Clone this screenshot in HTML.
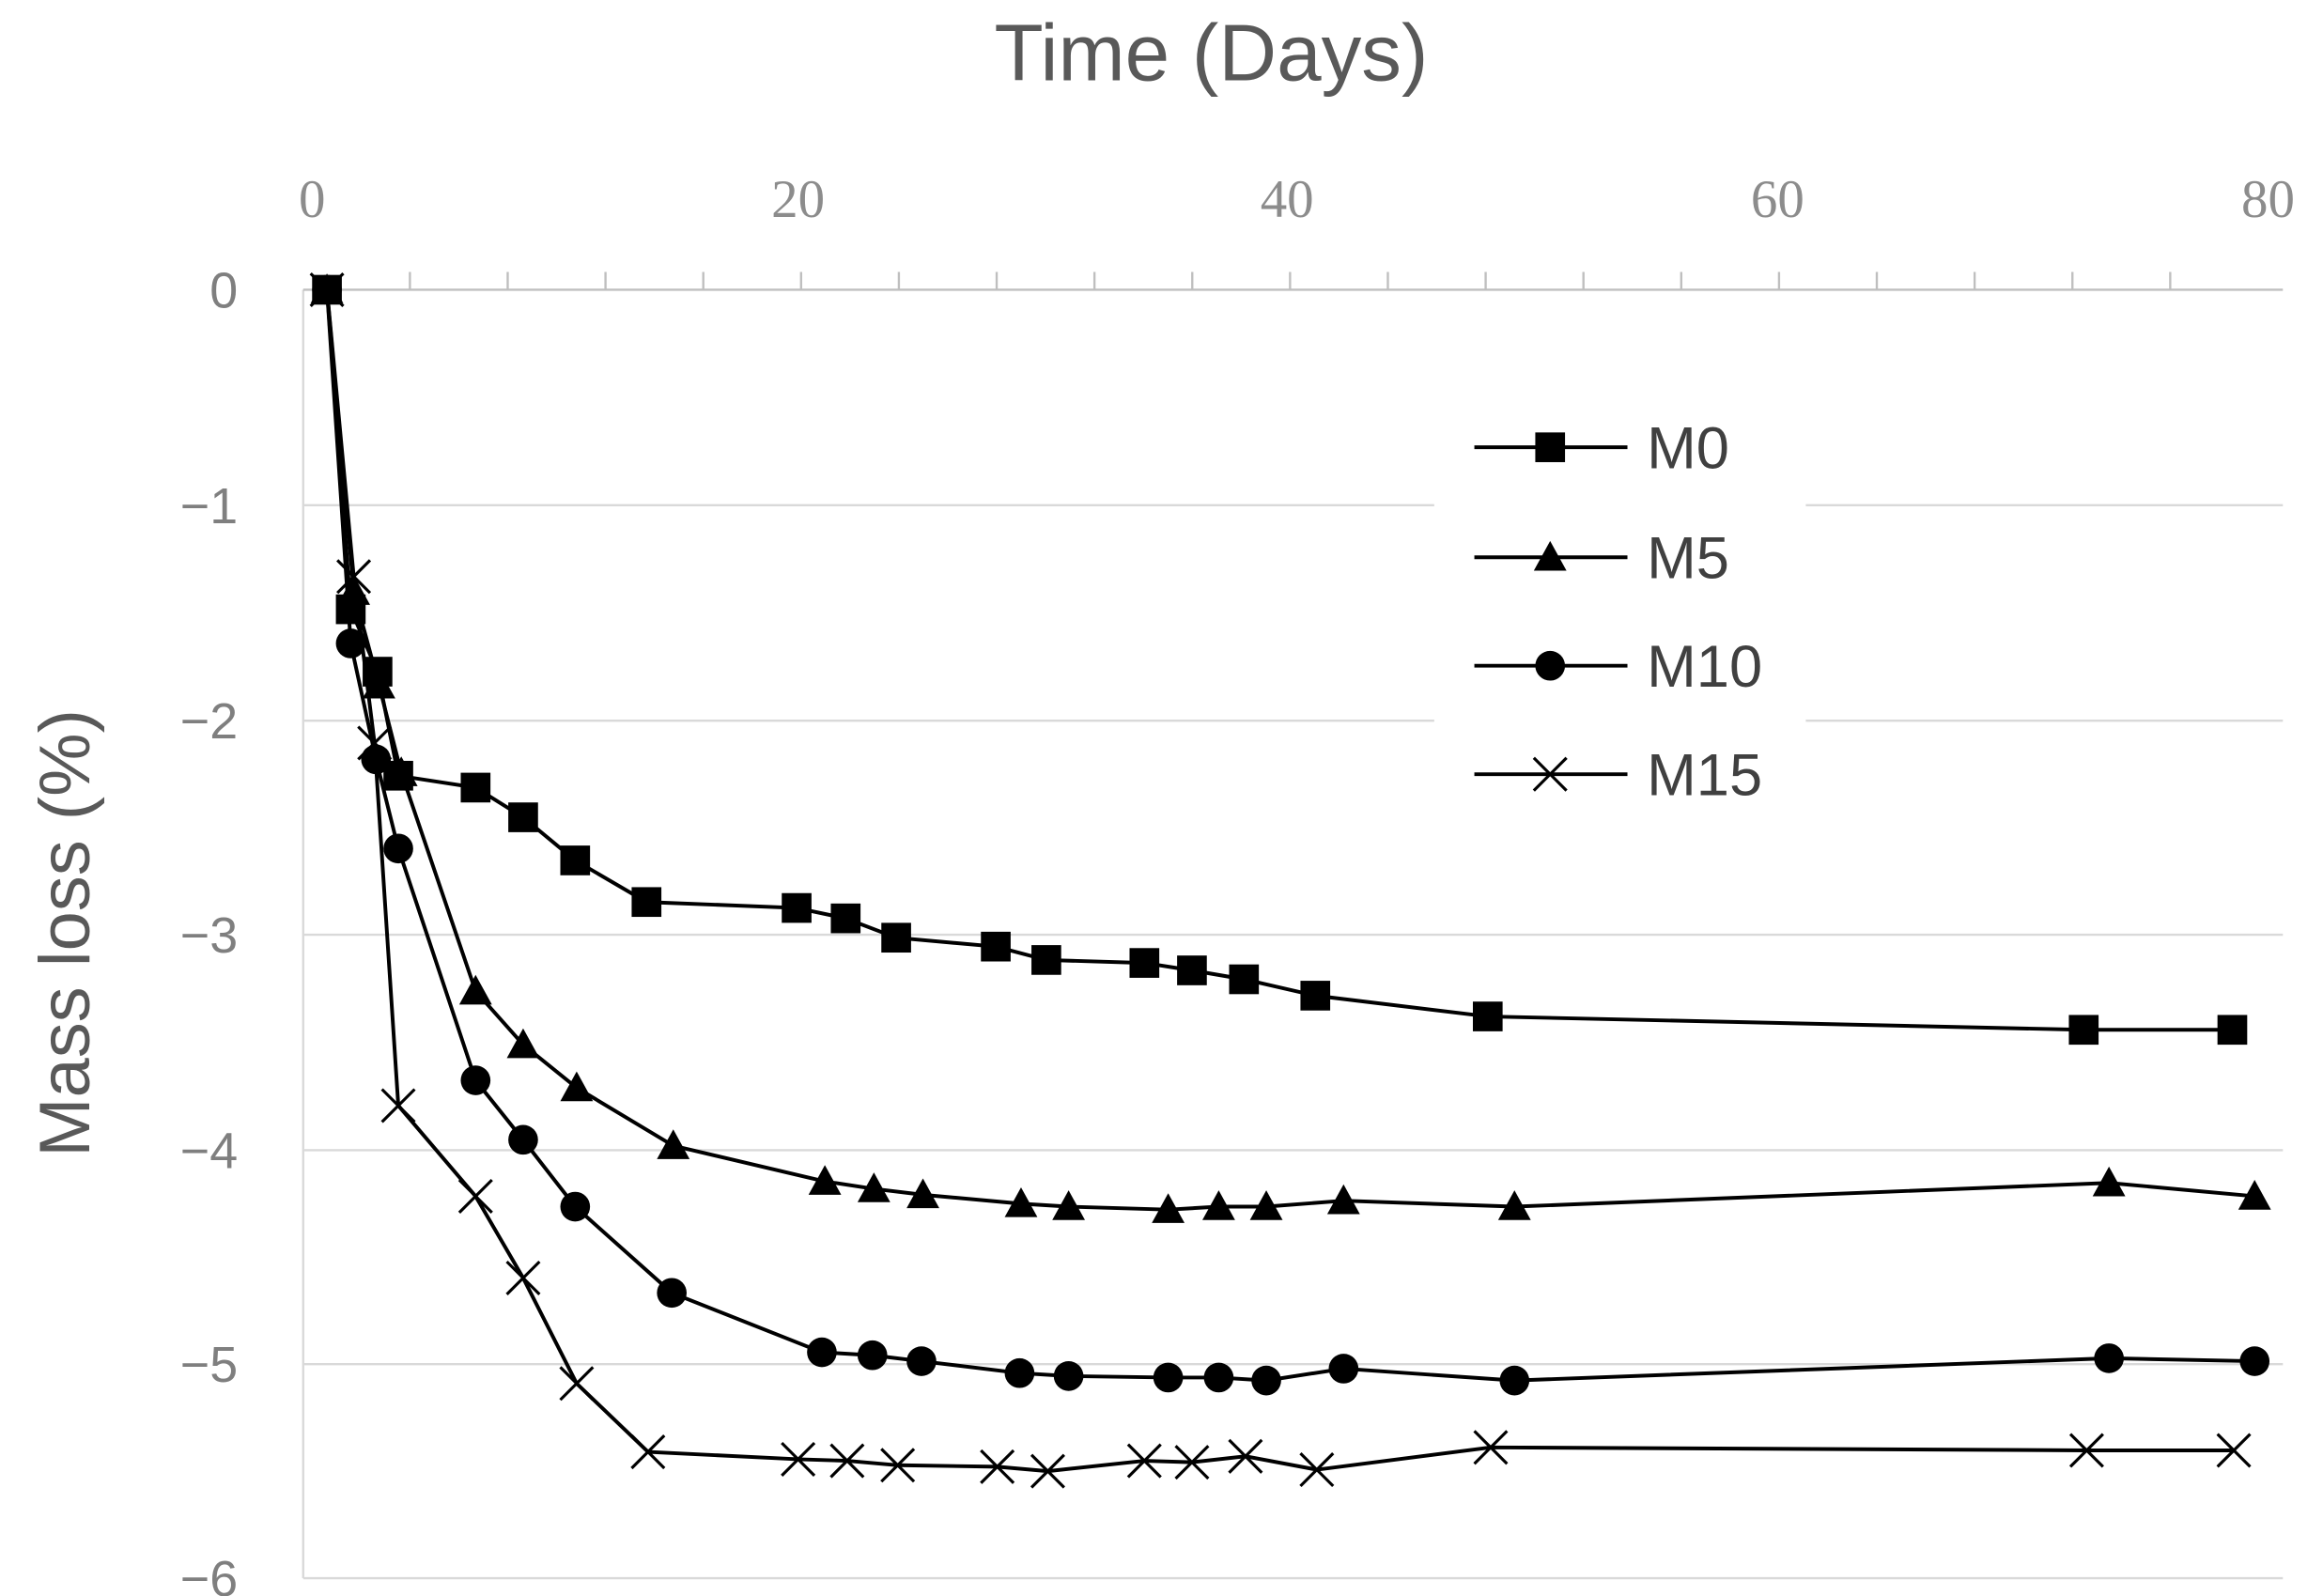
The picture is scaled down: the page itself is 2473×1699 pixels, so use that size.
<!DOCTYPE html>
<html><head><style>html,body{margin:0;padding:0;background:#fff}svg{display:block}</style></head>
<body>
<svg width="2473" height="1699" viewBox="0 0 1563 1074" preserveAspectRatio="none" xmlns="http://www.w3.org/2000/svg">
<rect width="1563" height="1074" fill="#fff"/>
<g stroke="#d9d9d9" stroke-width="1.5">
<line x1="204" y1="340" x2="1536" y2="340"/><line x1="204" y1="485" x2="1536" y2="485"/>
<line x1="204" y1="629" x2="1536" y2="629"/><line x1="204" y1="774" x2="1536" y2="774"/>
<line x1="204" y1="918" x2="1536" y2="918"/><line x1="204" y1="1062" x2="1536" y2="1062"/>
<line x1="204" y1="195" x2="204" y2="1062"/>
<line x1="204" y1="195" x2="1536" y2="195" stroke="#bfbfbf"/>
</g>
<g stroke="#bfbfbf" stroke-width="1.5" id="ticks"></g>
<rect x="965" y="270" width="250" height="275" fill="#fff"/>
<g font-family="Liberation Sans, sans-serif" font-size="34" fill="#7f7f7f" text-anchor="end">
<text x="160" y="207">0</text><text x="160" y="352">−1</text><text x="160" y="497">−2</text>
<text x="160" y="641">−3</text><text x="160" y="786">−4</text><text x="160" y="930">−5</text><text x="160" y="1074">−6</text>
</g>
<g font-family="Liberation Serif, serif" font-size="36" fill="#8c8c8c" text-anchor="middle">
<text x="210" y="146">0</text><text x="537" y="146">20</text><text x="866" y="146">40</text><text x="1196" y="146">60</text><text x="1526" y="146">80</text>
</g>
<text x="815" y="54" font-family="Liberation Sans, sans-serif" font-size="54" fill="#595959" text-anchor="middle">Time  (Days)</text>
<text transform="translate(60,628) rotate(-90)" font-family="Liberation Sans, sans-serif" font-size="48" fill="#595959" text-anchor="middle">Mass loss (%)</text>
<g fill="none" stroke="#000" stroke-width="2.5">
<polyline id="m0" points="220,195 236,410 254,452 268,522 320,530 352,550 387,579 435,607 536,611 569,618 603,631 670,637 704,646 770,648 802,653 837,659 885,670 1001,684 1402,693 1502,693"/>
<polyline id="m5" points="220,195 238,398 255,461 270,520 320,667 352,703 388,732 453,771 555,795 588,800 621,804 687,810 719,812 786,814 820,812 852,812 904,808 1019,812 1419,796 1517,805"/>
<polyline id="m10" points="220,195 236,433 253,511 268,571 320,727 352,767 387,812 452,870 553,910 587,912 620,916 686,924 719,926 786,927 820,927 852,929 904,921 1019,929 1419,914 1517,916"/>
<polyline id="m15" points="220,195 238,388 252,500 268,744 320,805 352,860 388,931 436,977 537,982 570,983 604,986 671,987 705,990 770,983 802,984 838,980 886,989 1003,974 1404,976 1503,976"/>
<line x1="992" y1="301" x2="1095" y2="301"/><line x1="992" y1="375" x2="1095" y2="375"/>
<line x1="992" y1="448" x2="1095" y2="448"/><line x1="992" y1="521" x2="1095" y2="521"/>
</g>
<g id="marks"></g>
<g font-family="Liberation Sans, sans-serif" font-size="40" fill="#404040">
<text x="1108" y="315">M0</text><text x="1108" y="389">M5</text><text x="1108" y="462">M10</text><text x="1108" y="535">M15</text>
</g>
<script>
var ns="http://www.w3.org/2000/svg";
var t=document.getElementById("ticks");
for(var d=4;d<80;d+=4){var x=210+d*16.45;var l=document.createElementNS(ns,"line");l.setAttribute("x1",x);l.setAttribute("x2",x);l.setAttribute("y1",183);l.setAttribute("y2",195);t.appendChild(l);}
var g=document.getElementById("marks");
function pts(id){return document.getElementById(id).getAttribute("points").trim().split(/\s+/).map(function(p){return p.split(",").map(Number);});}
function add(tag,attrs){var e=document.createElementNS(ns,tag);for(var k in attrs)e.setAttribute(k,attrs[k]);g.appendChild(e);}
function sq(p){add("rect",{x:p[0]-10,y:p[1]-10,width:20,height:20,fill:"#000"});}
function tri(p){add("polygon",{points:(p[0])+","+(p[1]-11)+" "+(p[0]-11)+","+(p[1]+9)+" "+(p[0]+11)+","+(p[1]+9),fill:"#000"});}
function ci(p){add("circle",{cx:p[0],cy:p[1],r:10,fill:"#000"});}
function xx(p){add("path",{d:"M"+(p[0]-11)+","+(p[1]-11)+"L"+(p[0]+11)+","+(p[1]+11)+"M"+(p[0]+11)+","+(p[1]-11)+"L"+(p[0]-11)+","+(p[1]+11),stroke:"#000","stroke-width":2,fill:"none"});}
pts("m0").forEach(sq);pts("m5").forEach(tri);pts("m10").forEach(ci);pts("m15").forEach(xx);
sq([1043,301]);tri([1043,375]);ci([1043,448]);xx([1043,521]);
</script>
</svg>
</body></html>
